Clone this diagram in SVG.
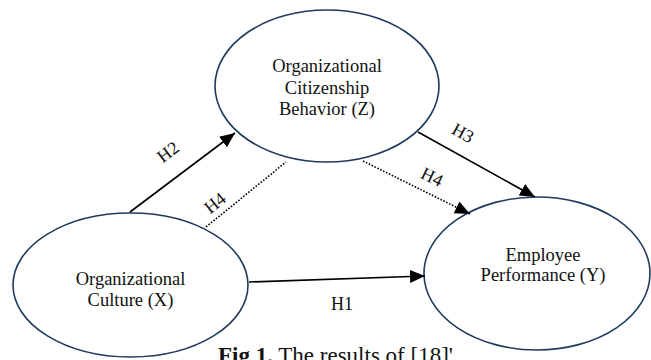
<svg xmlns="http://www.w3.org/2000/svg" width="651" height="360" viewBox="0 0 651 360">
<style>
.node{fill:#fff;stroke:#1f3a5c;stroke-width:1.6}
.t{font-family:"Liberation Serif","Times New Roman",serif;font-size:18.5px;fill:#111;text-anchor:middle}
.lbl{font-family:"Liberation Serif","Times New Roman",serif;font-size:18px;fill:#111;text-anchor:middle}
.solid{stroke:#000;stroke-width:1.6;fill:none}
.dot{stroke:#000;stroke-width:1.6;fill:none;stroke-dasharray:1.6 1.6}
.cap{font-family:"Liberation Serif","Times New Roman",serif;font-size:23px;fill:#111}
</style>
<defs>
<marker id="ah" markerUnits="userSpaceOnUse" markerWidth="16" markerHeight="14" refX="15" refY="6.5" orient="auto">
<path d="M0,0 L15,6.5 L0,13 z" fill="#000"/>
</marker>
</defs>
<rect width="651" height="360" fill="#fff"/>
<g id="node-Z">
<ellipse class="node" cx="327" cy="86" rx="112" ry="76"/>
<text class="t" x="327" y="72">Organizational</text>
<text class="t" x="327" y="94">Citizenship</text>
<text class="t" x="327" y="115">Behavior (Z)</text>
</g>
<g id="node-X">
<ellipse class="node" cx="130.5" cy="285" rx="117.5" ry="72"/>
<text class="t" x="130.5" y="285">Organizational</text>
<text class="t" x="130.5" y="306">Culture (X)</text>
</g>
<g id="node-Y">
<ellipse class="node" cx="537" cy="273.5" rx="113" ry="76.5"/>
<text class="t" x="543" y="260.5">Employee</text>
<text class="t" x="543" y="281">Performance (Y)</text>
</g>
<g id="connectors">
<line class="solid" x1="249" y1="282" x2="425" y2="276" marker-end="url(#ah)"/>
<line class="solid" x1="130" y1="212" x2="235" y2="133" marker-end="url(#ah)"/>
<line class="solid" x1="418" y1="132" x2="535" y2="197" marker-end="url(#ah)"/>
<line class="dot" x1="363" y1="161" x2="470" y2="214" marker-end="url(#ah)"/>
<line class="dot" x1="206" y1="227" x2="286" y2="162"/>
<text class="lbl" x="342" y="310">H1</text>
<text class="lbl" transform="translate(168,152) rotate(-37)" y="6">H2</text>
<text class="lbl" transform="translate(215,203) rotate(-39)" y="6">H4</text>
<text class="lbl" transform="translate(463,133) rotate(29)" y="6">H3</text>
<text class="lbl" transform="translate(432,177) rotate(26)" y="6">H4</text>
</g>
<text class="cap" x="218" y="363"><tspan font-weight="bold">Fig 1.</tspan> The results of [18]'</text>
</svg>
